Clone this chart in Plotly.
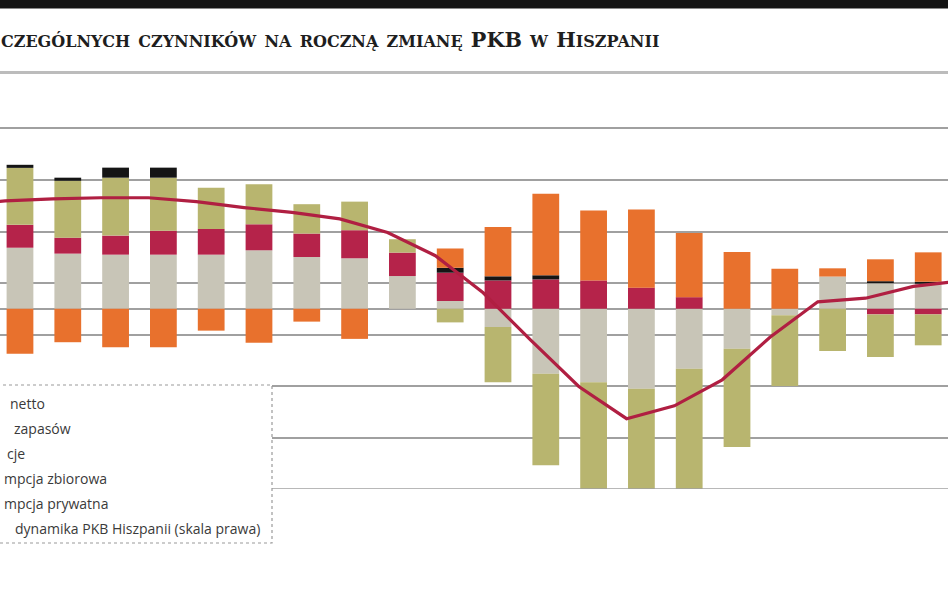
import plotly.graph_objects as go

# ---- data (contributions to annual GDP change, pp) ----
quarter_index = list(range(20))

konsumpcja_prywatna = [2.37, 2.14, 2.10, 2.10, 2.10, 2.27, 2.01, 1.96, 1.27, 0.30,
                       -0.71, -2.52, -2.85, -3.11, -2.33, -1.55, -0.25, 1.25, 0.99, 0.97]
konsumpcja_zbiorowa = [0.89, 0.62, 0.74, 0.93, 1.00, 1.01, 0.91, 1.09, 0.91, 1.10,
                       1.10, 1.14, 1.10, 0.82, 0.45, 0.0, 0.0, 0.0, -0.22, -0.22]
inwestycje = [2.21, 2.21, 2.25, 2.06, 1.60, 1.55, 1.14, 1.11, 0.52, -0.53,
              -2.14, -3.56, -4.15, -5.00, -4.70, -3.82, -2.75, -1.64, -1.65, -1.20]
zmiana_zapasow = [0.12, 0.12, 0.39, 0.39, 0.0, 0.0, 0.0, 0.0, 0.0, 0.19,
                  0.16, 0.16, 0.0, 0.0, 0.0, 0.0, 0.0, 0.0, 0.08, 0.08]
eksport_netto = [-1.75, -1.30, -1.50, -1.50, -0.85, -1.32, -0.50, -1.17, 0.0, 0.75,
                 1.91, 3.17, 2.72, 3.03, 2.49, 2.20, 1.55, 0.32, 0.85, 1.14]

# GDP dynamics (right scale), points from one period before to one after the visible bars
pkb_index = list(range(-1, 21))
dynamika_pkb = [4.00, 4.19, 4.27, 4.31, 4.31, 4.16, 3.93, 3.74, 3.49, 2.96, 2.06,
                0.62, -1.23, -3.02, -4.27, -3.77, -2.76, -1.11, 0.27, 0.41, 0.87, 1.08]

legend_fragments = ["netto", "zapasów", "cje", "mpcja zbiorowa", "mpcja prywatna",
                    "dynamika PKB Hiszpanii (skala prawa)"]
title_html = ('czególnych czynników na roczną zmianę '
              '<span style="font-size:20.7px">PKB</span> w '
              '<span style="font-size:20.7px">H</span>iszpanii')
grid_values = [-7, -5, -3, -1, 1, 3, 5, 7]

# ---- styling ----
W, H = 948, 593
PLOT_BOTTOM = 489
LINE_SHIFT = -0.31
BAR_W = 0.56
C_GREY = "#c8c5b7"
C_CRIMSON = "#b5234a"
C_OLIVE = "#b8b56f"
C_BLACK = "#151515"
C_ORANGE = "#e8712d"
C_LINE = "#b01f42"
GRID = "#a0a0a0"


def py(y_px):
    return (PLOT_BOTTOM - y_px) / PLOT_BOTTOM


def px(x_px):
    return x_px / W


fig = go.Figure()
series = [
    ("Konsumpcja prywatna", konsumpcja_prywatna, C_GREY),
    ("Konsumpcja zbiorowa", konsumpcja_zbiorowa, C_CRIMSON),
    ("Inwestycje", inwestycje, C_OLIVE),
    ("Zmiana zapasów", zmiana_zapasow, C_BLACK),
    ("Eksport netto", eksport_netto, C_ORANGE),
]
for name, vals, col in series:
    fig.add_trace(go.Bar(x=quarter_index, y=vals, name=name, width=BAR_W,
                         marker=dict(color=col, line=dict(width=0)),
                         showlegend=False))

fig.add_trace(go.Scatter(x=[i + LINE_SHIFT for i in pkb_index], y=dynamika_pkb,
                         mode="lines", name="Roczna dynamika PKB Hiszpanii",
                         line=dict(color=C_LINE, width=3.2), showlegend=False))

shapes = [
    # top black band
    dict(type="rect", xref="paper", yref="paper", x0=-0.01, x1=1.01,
         y0=py(8.5), y1=py(-2), fillcolor="#141414", line=dict(width=0), layer="above"),
    # separator under title
    dict(type="line", xref="paper", yref="paper", x0=-0.01, x1=1.01,
         y0=py(72.5), y1=py(72.5), line=dict(color="#bcbcbc", width=3), layer="above"),
    # bottom grid line at the axis minimum
    dict(type="line", xref="paper", yref="y", x0=0, x1=1, y0=-7, y1=-7,
         line=dict(color=GRID, width=1.5), layer="above"),
    # legend box
    dict(type="rect", xref="paper", yref="paper", x0=px(-6), x1=px(272),
         y0=py(543), y1=py(385), fillcolor="white",
         line=dict(color="#9a9a9a", width=1.2, dash="dot"), layer="above"),
]

annotations = [
    dict(text=title_html, xref="paper", yref="paper", x=px(-1), y=py(39),
         xanchor="left", yanchor="middle", showarrow=False,
         font=dict(family="DejaVu Serif", size=23.55, color="#1e1e1e",
                   weight="bold", variant="small-caps")),
]
legend_x = [8, 12, 5, 2, 2, 13]
for k, (txt, lx) in enumerate(zip(legend_fragments, legend_x)):
    annotations.append(dict(text=txt, xref="paper", yref="paper", x=px(lx),
                            y=py(403 + 25 * k), xanchor="left", yanchor="middle",
                            showarrow=False,
                            font=dict(family="Open Sans", size=14, color="#3a3a3a")))

fig.update_layout(
    width=W, height=H,
    margin=dict(l=0, r=0, t=0, b=H - PLOT_BOTTOM, pad=0),
    paper_bgcolor="white", plot_bgcolor="white",
    barmode="relative",
    xaxis=dict(range=[-0.418, 19.414], showgrid=False, zeroline=False,
               showticklabels=False, ticks="", showline=False),
    yaxis=dict(range=[-7, 11.99], tickvals=grid_values, showgrid=True,
               gridcolor=GRID, gridwidth=1.5, zeroline=True, zerolinecolor=GRID,
               zerolinewidth=1.5, showticklabels=False, ticks="", showline=False),
    shapes=shapes, annotations=annotations,
)

fig.write_html("out.html",
               config={"displayModeBar": False},
               post_script="document.body.style.margin='0px';"
                           "document.body.style.overflow='hidden';")
